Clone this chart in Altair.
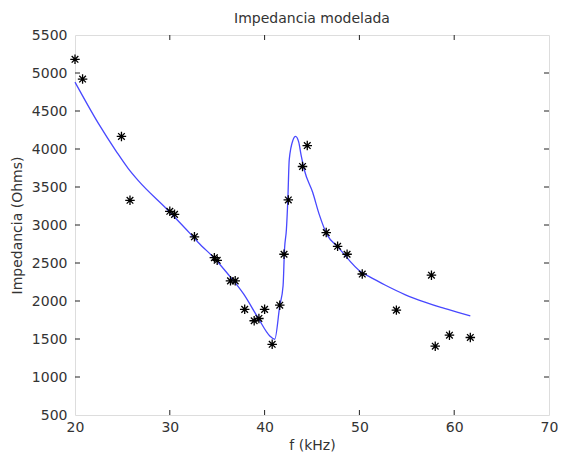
import altair as alt
import pandas as pd

# Measured data (stars)
meas_f = [20.0, 20.8, 24.9, 25.8, 30.0, 30.5, 32.6, 34.7, 35.0, 36.4, 36.9, 37.9, 38.9, 39.4, 40.0,
          40.8, 41.6, 42.05, 42.5, 44.0, 44.5, 46.5, 47.7, 48.7, 50.3, 53.9, 57.6, 58.0, 59.5, 61.7]
meas_z = [5180, 4920, 4165, 3325, 3180, 3140, 2845, 2570, 2535, 2265, 2265, 1890, 1740, 1770, 1890,
          1430, 1945, 2615, 3330, 3770, 4045, 2900, 2720, 2615, 2355, 1880, 2340, 1405, 1550, 1520]

# Modelled impedance (blue line)
model_f = [20.0, 22.5, 24.4, 25.6, 26.7, 29.8, 32.2, 33.0, 34.8, 36.0, 37.8, 39.3, 40.55, 41.07, 41.6,
           41.95, 42.1, 42.3, 42.45, 42.6, 43.0, 43.26, 43.6, 43.85, 44.2, 45.07, 45.76, 46.6, 47.7,
           50.3, 51.0, 52.7, 54.8, 56.9, 58.6, 60.3, 61.7]
model_z = [4880, 4330, 3960, 3745, 3580, 3195, 2880, 2770, 2550, 2375, 2090, 1780, 1540, 1497, 1935,
           2200, 2680, 2940, 3330, 3860, 4120, 4166, 4090, 3920, 3720, 3430, 3140, 2870, 2715,
           2370, 2325, 2210, 2085, 1985, 1915, 1855, 1805]

x_ticks = [20, 30, 40, 50, 60, 70]
y_ticks = [500, 1000, 1500, 2000, 2500, 3000, 3500, 4000, 4500, 5000, 5500]

W, H = 474, 380
FONT = "DejaVu Sans"
TXT = "#333333"

meas = pd.DataFrame({"f": meas_f, "z": meas_z})
model = pd.DataFrame({"f": model_f, "z": model_z})
xt = pd.DataFrame({"f": x_ticks[1:-1]})
yt = pd.DataFrame({"z": y_ticks[1:-1]})

xscale = alt.Scale(domain=[20, 70], nice=False, zero=False)
yscale = alt.Scale(domain=[500, 5500], nice=False, zero=False)

xaxis = alt.Axis(values=x_ticks, ticks=False, domain=False, grid=False, labelFont=FONT,
                 labelFontSize=14, labelColor=TXT, labelPadding=5, titleFont=FONT,
                 titleFontSize=14, titleColor=TXT, titleFontWeight="normal", titlePadding=4,
                 labelFlush=False, labelOverlap=False, format="d")
yaxis = alt.Axis(values=y_ticks, ticks=False, domain=False, grid=False, labelFont=FONT,
                 labelFontSize=14, labelColor=TXT, labelPadding=8, titleFont=FONT,
                 titleFontSize=14, titleColor=TXT, titleFontWeight="normal", titlePadding=7,
                 labelFlush=False, labelOverlap=False, format="d")

X = alt.X("f:Q", scale=xscale, axis=xaxis, title="f (kHz)")
Y = alt.Y("z:Q", scale=yscale, axis=yaxis, title="Impedancia (Ohms)")

line = alt.Chart(model).mark_line(color="#4848ff", strokeWidth=1.3, interpolate="monotone").encode(
    x=X, y=Y)

star = "M-1,0L1,0M0,-1L0,1M-0.7,-0.7L0.7,0.7M-0.7,0.7L0.7,-0.7"
points = alt.Chart(meas).mark_point(shape=star, filled=False, color="black", strokeWidth=1.3,
                                    size=90, opacity=1).encode(x=X, y=Y)

tick_color = "#222222"
xt_bottom = alt.Chart(xt).mark_rule(color=tick_color).encode(
    x=X, y=alt.value(H), y2=alt.value(H - 5))
xt_top = alt.Chart(xt).mark_rule(color=tick_color).encode(
    x=X, y=alt.value(0), y2=alt.value(5))
yt_left = alt.Chart(yt).mark_rule(color=tick_color).encode(
    y=Y, x=alt.value(0), x2=alt.value(5))
yt_right = alt.Chart(yt).mark_rule(color=tick_color).encode(
    y=Y, x=alt.value(W), x2=alt.value(W - 5))

chart = alt.layer(line, points, xt_bottom, xt_top, yt_left, yt_right).properties(
    width=W, height=H,
    title=alt.TitleParams("Impedancia modelada", font=FONT, fontSize=14, fontWeight="normal",
                          color=TXT, offset=2, anchor="middle"),
    autosize=alt.AutoSizeParams(type="none"),
    padding={"left": 67, "top": 27, "right": 9, "bottom": 40},
).configure_view(stroke="#7a7a7a", strokeWidth=1.2).configure_axis(
    labelOverlap=False).configure(background="white")

chart.save("out.html", embed_options={"renderer": "svg", "actions": False})
